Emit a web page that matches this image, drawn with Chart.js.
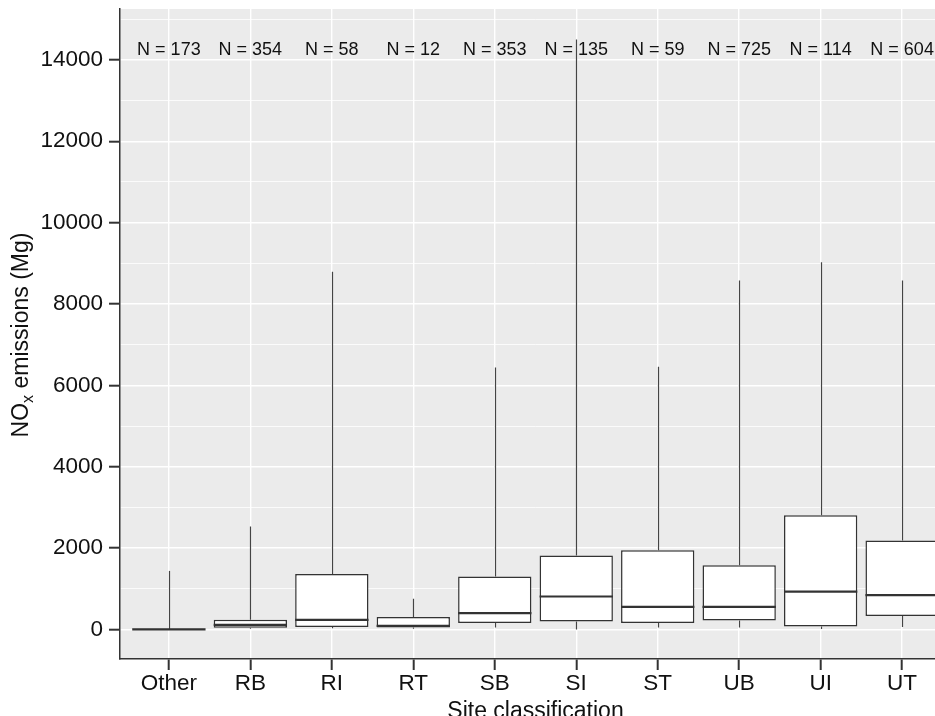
<!DOCTYPE html>
<html>
<head>
<meta charset="utf-8">
<script src="https://cdn.jsdelivr.net/npm/chart.js@4.4.0/dist/chart.umd.min.js"></script>
<style>
html, body { margin: 0; padding: 0; background: #fff; overflow: hidden; }
#wrap { width: 951px; height: 716px; }
</style>
</head>
<body>
<div id="wrap"><canvas id="boxplot" width="951" height="716"></canvas></div>
<script>
// site classes and box statistics (Mg)
var categories = ["Other", "RB", "RI", "RT", "SB", "SI", "ST", "UB", "UI", "UT"];
var counts = [173, 354, 58, 12, 353, 135, 59, 725, 114, 604];
var whiskerLow = [0, 20, 30, 20, 50, 0, 50, 50, 10, 60];
var q1 = [0, 42, 59, 49, 157, 197, 157, 221, 74, 329];
var median = [3, 115, 238, 91, 403, 811, 558, 558, 933, 845];
var q3 = [10, 238, 1361, 305, 1302, 1818, 1950, 1582, 2810, 2186];
var whiskerHigh = [1440, 2530, 8790, 755, 6440, 14500, 6455, 8575, 9025, 8575];
var yMajorTicks = [0, 2000, 4000, 6000, 8000, 10000, 12000, 14000];
var yMinorTicks = [1000, 3000, 5000, 7000, 9000, 11000, 13000, 15000];
var nLabelY = 14250;

var FONT = '"Liberation Sans", Arial, sans-serif';
var INK = '#333333';

function isMajor(v) {
    return yMajorTicks.indexOf(v) >= 0;
}

var boxParts = {
    id: 'boxParts',
    beforeDraw: function (chart) {
        var a = chart.chartArea, c = chart.ctx;
        c.save();
        c.fillStyle = '#EBEBEB';
        c.fillRect(a.left, a.top, a.right - a.left, a.bottom - a.top);
        c.restore();
    },
    beforeDatasetsDraw: function (chart) {
        var c = chart.ctx, xs = chart.scales.x, ys = chart.scales.y;
        c.save();
        c.strokeStyle = '#444';
        c.lineWidth = 1.2;
        for (var i = 0; i < categories.length; i++) {
            var x = Math.round(xs.getPixelForValue(i)) + 0.5;
            c.beginPath();
            c.moveTo(x, ys.getPixelForValue(q3[i]));
            c.lineTo(x, ys.getPixelForValue(whiskerHigh[i]));
            c.moveTo(x, ys.getPixelForValue(q1[i]));
            c.lineTo(x, ys.getPixelForValue(whiskerLow[i]));
            c.stroke();
        }
        c.restore();
    },
    afterDatasetsDraw: function (chart) {
        var c = chart.ctx, ys = chart.scales.y;
        var bars = chart.getDatasetMeta(0).data;
        c.save();
        c.strokeStyle = INK;
        c.lineWidth = 2.2;
        for (var i = 0; i < bars.length; i++) {
            var y = ys.getPixelForValue(median[i]);
            c.beginPath();
            c.moveTo(bars[i].x - bars[i].width / 2, y);
            c.lineTo(bars[i].x + bars[i].width / 2, y);
            c.stroke();
        }
        c.restore();
    },
    afterDraw: function (chart) {
        var c = chart.ctx, a = chart.chartArea, xs = chart.scales.x, ys = chart.scales.y;
        c.save();
        c.fillStyle = '#111';
        // N labels
        c.font = '18px ' + FONT;
        c.textAlign = 'center';
        c.textBaseline = 'middle';
        for (var i = 0; i < categories.length; i++) {
            c.fillText('N = ' + counts[i], xs.getPixelForValue(i), ys.getPixelForValue(nLabelY));
        }
        // x title
        c.font = '23px ' + FONT;
        c.textBaseline = 'alphabetic';
        c.fillText('Site classification', (a.left + a.right) / 2, 718);
        // y title with subscript
        var big = '23px ' + FONT, small = '16px ' + FONT;
        c.font = big;
        var w1 = c.measureText('NO').width;
        var w3 = c.measureText(' emissions (Mg)').width;
        c.font = small;
        var w2 = c.measureText('x').width;
        var total = w1 + w2 + w3;
        c.translate(28, 335);
        c.rotate(-Math.PI / 2);
        c.textAlign = 'left';
        var start = -total / 2;
        c.font = big;
        c.fillText('NO', start, 0);
        c.font = small;
        c.fillText('x', start + w1, 5);
        c.font = big;
        c.fillText(' emissions (Mg)', start + w1 + w2, 0);
        c.restore();
    }
};

var boxData = categories.map(function (c, i) {
    return { x: i, y: [q1[i], q3[i]] };
});

new Chart(document.getElementById('boxplot'), {
    type: 'bar',
    data: {
        datasets: [{
            data: boxData,
            backgroundColor: '#ffffff',
            borderColor: INK,
            borderWidth: 1.5,
            borderSkipped: false,
            barPercentage: 0.9,
            categoryPercentage: 1
        }]
    },
    options: {
        responsive: false,
        animation: false,
        devicePixelRatio: 1,
        layout: { padding: { top: 9, left: 0, right: 0, bottom: 0 } },
        plugins: { legend: { display: false }, tooltip: { enabled: false } },
        scales: {
            x: {
                type: 'linear',
                min: -0.6,
                max: 9.6,
                offset: false,
                afterBuildTicks: function (s) {
                    s.ticks = categories.map(function (c, i) { return { value: i }; });
                },
                afterFit: function (s) {
                    s.height = 57;
                    s.paddingLeft = 0;
                    s.paddingRight = 0;
                },
                ticks: {
                    callback: function (v) { return categories[v]; },
                    font: { family: FONT, size: 22.5 },
                    color: '#111',
                    padding: 0,
                    maxRotation: 0,
                    autoSkip: false
                },
                grid: { offset: false, color: '#ffffff', lineWidth: 1.4, tickLength: 11, tickColor: INK, tickWidth: 2 },
                border: { color: INK, width: 1.5 }
            },
            y: {
                type: 'linear',
                min: -725,
                max: 15250,
                afterBuildTicks: function (s) {
                    s.ticks = yMajorTicks.concat(yMinorTicks).sort(function (a, b) { return a - b; })
                        .map(function (v) { return { value: v }; });
                },
                afterFit: function (s) {
                    s.width = 120;
                    s.paddingTop = 0;
                    s.paddingBottom = 0;
                },
                ticks: {
                    callback: function (v) { return isMajor(v) ? String(v) : ''; },
                    font: { family: FONT, size: 22.5 },
                    color: '#111',
                    padding: 6,
                    autoSkip: false
                },
                grid: {
                    color: '#ffffff',
                    lineWidth: function (ctx) { return ctx.tick && isMajor(ctx.tick.value) ? 1.4 : 0.8; },
                    tickLength: 11,
                    tickColor: function (ctx) { return ctx.tick && isMajor(ctx.tick.value) ? INK : 'rgba(0,0,0,0)'; },
                    tickWidth: 2
                },
                border: { color: INK, width: 1.5 }
            }
        }
    },
    plugins: [boxParts]
});
</script>
</body>
</html>
